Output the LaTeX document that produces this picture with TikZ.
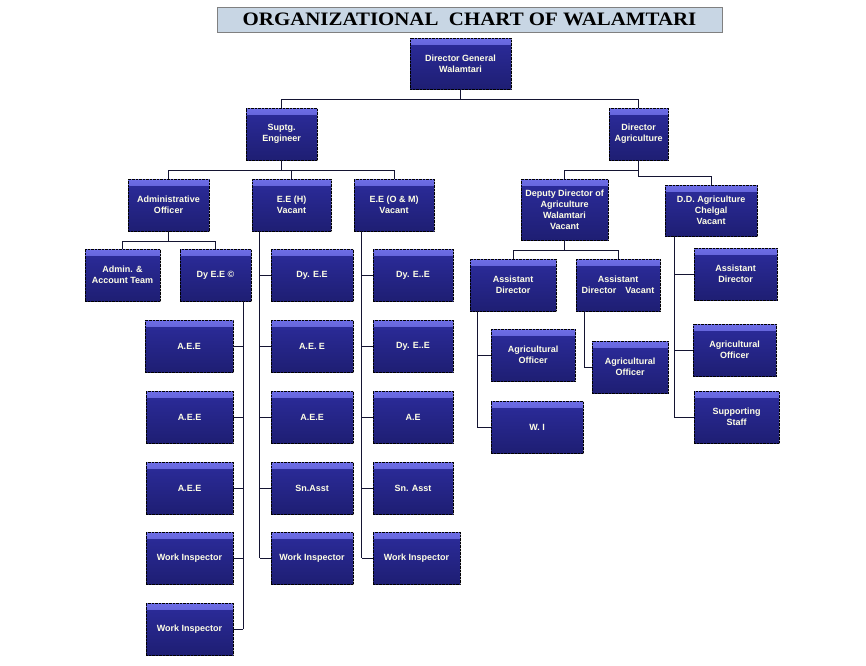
\documentclass[tikz,border=0pt]{standalone}
\usepackage{fontspec}
\setsansfont{Liberation Sans}
\newfontfamily\titlefont{Liberation Serif}
\usetikzlibrary{shadows}
\definecolor{boxtop}{RGB}{110,110,230}
\definecolor{boxmid}{RGB}{44,44,156}
\definecolor{boxbot}{RGB}{30,30,115}
\definecolor{boxtext}{RGB}{255,255,230}
\definecolor{linecol}{RGB}{20,20,50}
\definecolor{titlefill}{RGB}{200,214,228}

\begin{document}
\begin{tikzpicture}[x=1pt,y=-1pt,
    post/.style={draw=black,densely dotted,top color=boxmid,bottom color=boxbot,
      minimum width=81pt,minimum height=52pt,inner sep=1pt,text=boxtext,align=center,
      font=\sffamily\bfseries\fontsize{9}{11}\selectfont,
      path picture={\shade[top color=boxtop,bottom color=boxmid]
        (path picture bounding box.north west) rectangle ([yshift=-6pt]path picture bounding box.north east);},
      drop shadow={shadow xshift=1pt,shadow yshift=-1pt,fill=black!60}},
    link/.style={draw=linecol,line width=0.8pt}]
    \useasboundingbox (0,0) rectangle (866,665);
    % title
    \node[draw=gray,fill=titlefill,minimum width=505pt,minimum height=25pt,
      font=\titlefont\bfseries\fontsize{19}{20}\selectfont] (title) at (469.5,19.5)
      {\scalebox{1.1}[1]{ORGANIZATIONAL\ \ CHART OF WALAMTARI}};
    % top levels
    \node[post,minimum width=101pt,minimum height=51pt] (dg) at (460.5,63.5) {Director General\\Walamtari};
    \node[post,minimum width=71pt] (se) at (281.5,134) {Suptg.\\Engineer};
    \node[post,minimum width=59pt] (da) at (638.5,134) {Director\\Agriculture};
    \node[post] (ao) at (168.5,205) {Administrative\\Officer};
    \node[post,minimum width=79pt] (eeh) at (291.5,205) {E.E (H)\\Vacant};
    \node[post,minimum width=80pt] (eeo) at (394,205) {E.E (O \& M)\\Vacant};
    \node[post,minimum width=87pt,minimum height=61pt] (ddw) at (564.5,209.5) {Deputy Director of\\Agriculture\\Walamtari\\Vacant};
    \node[post,minimum width=92pt,minimum height=51pt] (ddc) at (711,210.5) {D.D. Agriculture\\Chelgal\\Vacant};
    % engineering side
    \node[post,minimum width=75pt] (aat) at (122.5,275) {Admin. \&\\Account Team};
    \node[post,minimum width=71pt] (dye) at (215.5,275) {Dy E.E \textcopyright};
    \node[post,minimum width=82pt] (dyh) at (312,275) {Dy. E.E};
    \node[post,minimum width=80pt] (dyo) at (413,275) {Dy. E..E};
    \node[post,minimum width=88pt] (ae1) at (189,346) {A.E.E};
    \node[post,minimum width=82pt] (ae2) at (312,346) {A.E. E};
    \node[post,minimum width=80pt] (dyo2) at (413,346) {Dy. E..E};
    \node[post,minimum width=87pt] (ae3) at (189.5,417) {A.E.E};
    \node[post,minimum width=82pt] (ae4) at (312,417) {A.E.E};
    \node[post,minimum width=80pt] (ae5) at (413,417) {A.E};
    \node[post,minimum width=87pt] (ae6) at (189.5,488) {A.E.E};
    \node[post,minimum width=82pt] (sa1) at (312,488) {Sn.Asst};
    \node[post,minimum width=80pt] (sa2) at (413,488) {Sn. Asst};
    \node[post,minimum width=87pt] (wi1) at (189.5,558) {Work Inspector};
    \node[post,minimum width=82pt] (wi2) at (312,558) {Work Inspector};
    \node[post,minimum width=87pt] (wi3) at (416.5,558) {Work Inspector};
    \node[post,minimum width=87pt] (wi4) at (189.5,629) {Work Inspector};
    % agriculture side
    \node[post,minimum width=86pt] (ad1) at (513,285) {Assistant\\Director};
    \node[post,minimum width=84pt] (ad2) at (618,285) {Assistant\\Director\quad Vacant};
    \node[post,minimum width=83pt] (ad3) at (735.5,274) {Assistant\\Director};
    \node[post,minimum width=84pt] (ag1) at (533,355) {Agricultural\\Officer};
    \node[post,minimum width=76pt] (ag2) at (630,367) {Agricultural\\Officer};
    \node[post,minimum width=83pt] (ag3) at (734.5,350) {Agricultural\\Officer};
    \node[post,minimum width=85pt] (ss) at (736.5,417) {Supporting\\Staff};
    \node[post,minimum width=92pt] (wi) at (537,427) {W. I};
    % connectors
    \draw[link] (dg.south) -- ++(0,10) coordinate (j1);
    \draw[link] (se.north) |- (j1) -| (da.north);
    \draw[link] (se.south) -- ++(0,10) coordinate (j2);
    \draw[link] (ao.north) |- (j2) -| (eeo.north);
    \draw[link] (j2) -| (eeh.north);
    \draw[link] (da.south) -- ++(0,10) coordinate (j3);
    \draw[link] (ddw.north) |- (j3) -- ++(0,6) -| (ddc.north);
    \draw[link] (ao.south) -- ++(0,10) coordinate (j4);
    \draw[link] (aat.north) |- (j4) -| (dye.north);
    \draw[link] (ddw.south) -- ++(0,10) coordinate (j5);
    \draw[link] (ad1.north) |- (j5) -| (ad2.north);
    % spines
    \coordinate (s1) at ([xshift=-8pt]dye.south east);
    \coordinate (s2) at ([xshift=8pt]eeh.south west);
    \coordinate (s3) at ([xshift=8pt]eeo.south west);
    \coordinate (s4) at ([xshift=8pt]ad1.south west);
    \coordinate (s5) at ([xshift=9pt]ad2.south west);
    \coordinate (s6) at ([xshift=10pt]ddc.south west);
    \draw[link] (s1) -- (s1 |- wi4.east);
    \foreach \n in {ae1,ae3,ae6,wi1,wi4} \draw[link] (s1 |- \n.east) -- (\n.east);
    \draw[link] (s2) -- (s2 |- wi2.west);
    \foreach \n in {dyh,ae2,ae4,sa1,wi2} \draw[link] (s2 |- \n.west) -- (\n.west);
    \draw[link] (s3) -- (s3 |- wi3.west);
    \foreach \n in {dyo,dyo2,ae5,sa2,wi3} \draw[link] (s3 |- \n.west) -- (\n.west);
    \draw[link] (s4) |- (wi.west);
    \draw[link] (s4 |- ag1.west) -- (ag1.west);
    \draw[link] (s5) |- (ag2.west);
    \draw[link] (s6) |- (ss.west);
    \foreach \n in {ad3,ag3} \draw[link] (s6 |- \n.west) -- (\n.west);
\end{tikzpicture}
\end{document}
